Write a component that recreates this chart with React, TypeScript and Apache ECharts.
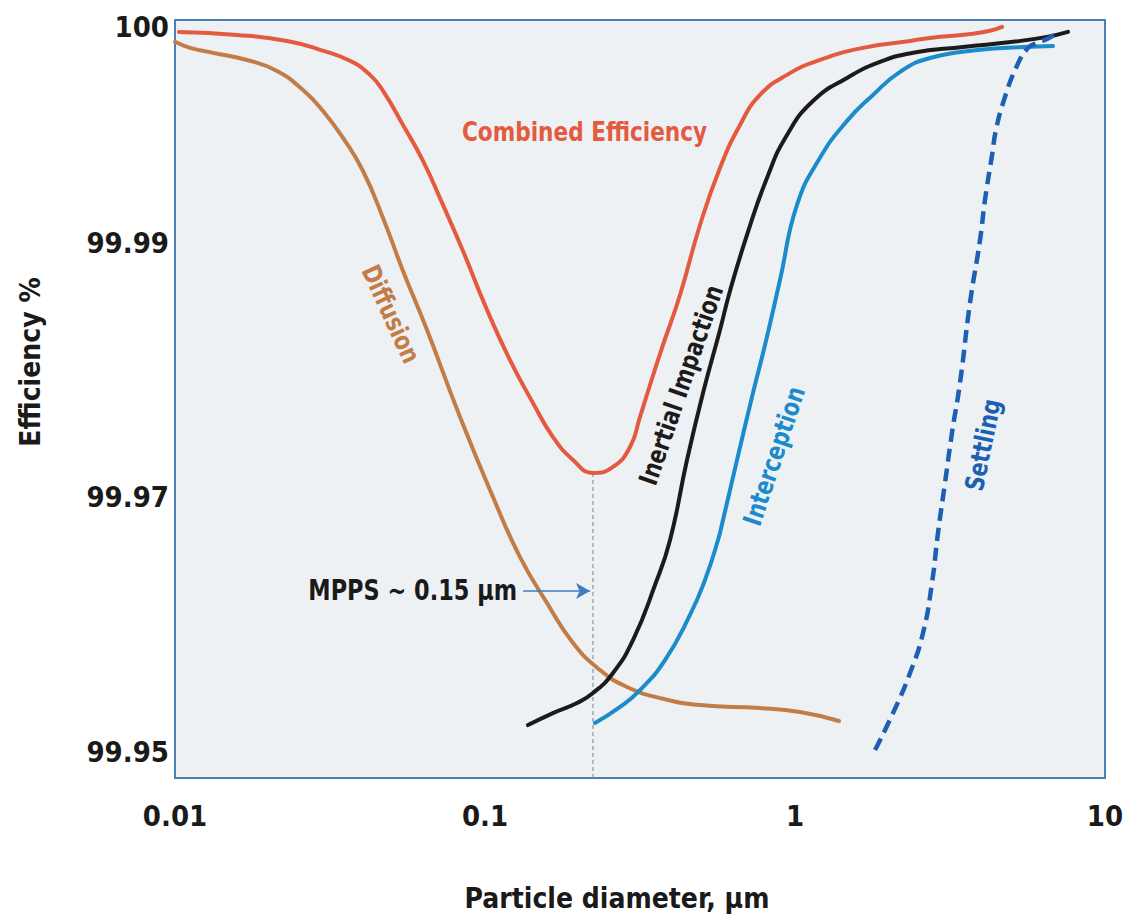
import React, { useEffect, useRef } from "react";
import * as echarts from "echarts";

// ---------- data (particle diameter in µm, efficiency in %) ----------
const combinedX = [0.0103, 0.01585, 0.02298, 0.02936, 0.03668, 0.04256, 0.04688, 0.05439, 0.0631, 0.07318, 0.08492, 0.1015, 0.1204, 0.1428, 0.1657, 0.1923, 0.223, 0.2588, 0.2936, 0.3162, 0.3406, 0.3724, 0.4256, 0.4938, 0.5728, 0.6646, 0.7709, 0.9423, 1.204, 1.657, 2.35, 2.727, 3.75, 4.35, 4.653];
const combinedY = [99.99977, 99.99963, 99.99935, 99.99894, 99.99843, 99.99778, 99.99704, 99.99546, 99.9938, 99.99176, 99.98937, 99.98474, 99.9808, 99.97743, 99.97475, 99.97295, 99.97193, 99.9724, 99.97397, 99.97633, 99.97884, 99.98175, 99.98591, 99.99083, 99.99347, 99.99546, 99.99685, 99.99778, 99.99847, 99.99903, 99.99935, 99.99949, 99.99968, 99.99986, 100.0];

const diffusionX = [0.01, 0.01118, 0.01326, 0.01707, 0.02133, 0.02588, 0.03002, 0.03483, 0.0404, 0.04688, 0.05439, 0.06501, 0.08306, 0.1061, 0.1297, 0.1585, 0.1923, 0.235, 0.2871, 0.3668, 0.4938, 0.7709, 1.038, 1.387];
const diffusionY = [99.99931, 99.99903, 99.9988, 99.99847, 99.99796, 99.99708, 99.99611, 99.99486, 99.99333, 99.99116, 99.9878, 99.98316, 99.97633, 99.97004, 99.96532, 99.96171, 99.95857, 99.95644, 99.95511, 99.95424, 99.95369, 99.95346, 99.95314, 99.95244];

const inertialX = [0.1376, 0.1657, 0.1981, 0.223, 0.2588, 0.3002, 0.3535, 0.3953, 0.4483, 0.5049, 0.5728, 0.617, 0.7001, 0.8122, 0.9423, 1.143, 1.472, 1.88, 2.403, 3.483, 5.049, 6.501, 7.598];
const inertialY = [99.95212, 99.95306, 99.95385, 99.95464, 99.95621, 99.9588, 99.96312, 99.96666, 99.97295, 99.97821, 99.98316, 99.98623, 99.99037, 99.99301, 99.995, 99.99657, 99.99764, 99.99838, 99.9988, 99.99907, 99.99931, 99.99954, 99.99977];

const interceptionX = [0.2264, 0.2727, 0.3162, 0.3808, 0.4584, 0.5124, 0.5645, 0.5858, 0.6501, 0.7318, 0.8003, 0.8945, 1.015, 1.204, 1.472, 1.785, 2.182, 2.727, 3.953, 5.439, 6.797];
const interceptionY = [99.95228, 99.95354, 99.95487, 99.95723, 99.96077, 99.96352, 99.96666, 99.96823, 99.97295, 99.97821, 99.98198, 99.98709, 99.99176, 99.99394, 99.99565, 99.99685, 99.99792, 99.99856, 99.99894, 99.99907, 99.99912];

const settlingX = [1.812, 2.071, 2.35, 2.588, 2.766, 2.892, 3.047, 3.209, 3.406, 3.668, 3.953, 4.101, 4.322, 4.449, 4.724, 5.163, 5.645, 6.035, 6.501, 7.001];
const settlingY = [99.95016, 99.95306, 99.95621, 99.95935, 99.96328, 99.96721, 99.97114, 99.97507, 99.979, 99.98528, 99.99014, 99.99199, 99.99407, 99.99523, 99.99662, 99.9981, 99.99903, 99.99926, 99.99944, 99.99972];

// MPPS marker (drawn at the minimum of the combined curve)
const mppsX = 0.223;
const mppsY = 99.97193;
const arrowFromX = 0.1327;
const arrowToX = 0.2182;
const arrowY = 99.96265;

const xTicks = [0.01, 0.1, 1, 10];
const yTicks = [99.95, 99.97, 99.99, 100];
const xMin = 0.01;
const xMax = 10;
const yMinE = 99.94796;
const yMaxE = 100.00032;

// The reference's efficiency scale is stretched above 99.99
const Y_BREAK = 99.99;
const Y_STRETCH = 1.6975;
const toAxis = (e: number) => (e <= Y_BREAK ? e : Y_BREAK + (e - Y_BREAK) * Y_STRETCH);
const fromAxis = (u: number) => (u <= Y_BREAK ? u : Y_BREAK + (u - Y_BREAK) / Y_STRETCH);
const pairs = (xs: number[], ys: number[]) => xs.map((x, i) => [x, toAxis(ys[i])]);

const FONT = "'Liberation Sans Narrow', 'DejaVu Sans Condensed', 'Liberation Sans', Arial, sans-serif";
const SQUEEZE = 0.89;

export default function App() {
  const ref = useRef<HTMLDivElement>(null);
  useEffect(() => {
    document.body.style.margin = "0";
    if (!ref.current) return;
    const chart = echarts.init(ref.current, undefined, { renderer: "svg" });
    const lineBase = (name: string, xs: number[], ys: number[], color: string, extra: any = {}) => ({
      name,
      type: "line",
      data: pairs(xs, ys),
      showSymbol: false,
      symbol: "none",
      smooth: 0.5,
      silent: true,
      lineStyle: { color, width: 4, cap: "round", join: "round", ...(extra.lineStyle || {}) },
      z: extra.z || 3,
    });
    const txt = (text: string, x: number, y: number, color: string, size: number, rotation = 0, align = "center") => ({
      type: "text",
      x,
      y,
      rotation,
      scaleX: SQUEEZE,
      style: { text, fill: color, font: `bold ${size}px ${FONT}`, align, verticalAlign: "middle" },
    });
    const option: any = {
      animation: false,
      backgroundColor: "#ffffff",
      grid: {
        left: 175,
        right: 27,
        top: 20,
        bottom: 140,
        show: true,
        backgroundColor: "#eef1f3",
        borderColor: "#4a80b4",
        borderWidth: 2,
      },
      xAxis: {
        type: "log",
        logBase: 10,
        min: xMin,
        max: xMax,
        axisLine: { show: false },
        axisTick: { show: false },
        splitLine: { show: false },
        axisLabel: {
          margin: 23,
          color: "#1a1a1a",
          fontFamily: FONT,
          fontWeight: "bold",
          fontSize: 29,
          customValues: xTicks,
          formatter: (v: number) => String(Number(v.toPrecision(3))),
        },
      },
      yAxis: {
        type: "value",
        min: toAxis(yMinE),
        max: toAxis(yMaxE),
        axisLine: { show: false },
        axisTick: { show: false },
        splitLine: { show: false },
        axisLabel: {
          margin: 6,
          color: "#1a1a1a",
          fontFamily: FONT,
          fontWeight: "bold",
          fontSize: 29,
          customValues: yTicks.map(toAxis),
          formatter: (v: number) => String(Number(fromAxis(v).toFixed(2))),
        },
      },
      series: [
        lineBase("Diffusion", diffusionX, diffusionY, "#c27c48"),
        lineBase("Interception", interceptionX, interceptionY, "#1b8bcb"),
        lineBase("Inertial Impaction", inertialX, inertialY, "#1c1a1b", { z: 4 }),
        lineBase("Combined Efficiency", combinedX, combinedY, "#e35a40", { z: 5 }),
        lineBase("Settling", settlingX, settlingY, "#1d5fb3", { lineStyle: { type: [13, 7], cap: "butt", width: 4.5 }, z: 4 }),
        {
          name: "MPPS",
          type: "line",
          data: [[mppsX, toAxis(mppsY)], [mppsX, toAxis(yMinE)]],
          symbol: "none",
          silent: true,
          lineStyle: { color: "#8a939c", width: 1.2, type: [4, 3] },
          z: 2,
          markLine: {
            silent: true,
            symbol: ["none", "arrow"],
            symbolSize: [12, 14],
            label: { show: false },
            lineStyle: { color: "#3d7cc2", width: 1.5, type: "solid" },
            data: [[{ coord: [arrowFromX, toAxis(arrowY)] }, { coord: [arrowToX, toAxis(arrowY)] }]],
          },
        },
      ],
      graphic: [
        {
          type: "text", x: 617, y: 898,
          style: { text: "Particle diameter, µm", fill: "#1a1a1a", font: `bold 28px ${FONT}`, align: "center", verticalAlign: "middle" },
        },
        {
          type: "text", x: 30, y: 362, rotation: Math.PI / 2,
          style: { text: "Efficiency %", fill: "#1a1a1a", font: `bold 28px ${FONT}`, align: "center", verticalAlign: "middle" },
        },
        txt("Combined Efficiency", 462, 131, "#e35a40", 27, 0, "left"),
        txt("Diffusion", 391, 314, "#c27c48", 26, -1.14),
        txt("Inertial Impaction", 681, 385, "#1c1a1b", 26, 1.24),
        txt("Interception", 774, 456, "#1b8bcb", 26, 1.25),
        txt("Settling", 983, 445, "#1d5fb3", 26, 1.37),
        txt("MPPS ~ 0.15 µm", 517, 590, "#1a1a1a", 28, 0, "right"),
      ],
    };
    chart.setOption(option);
    return () => chart.dispose();
  }, []);
  return <div ref={ref} style={{ width: 1132, height: 918 }} />;
}
